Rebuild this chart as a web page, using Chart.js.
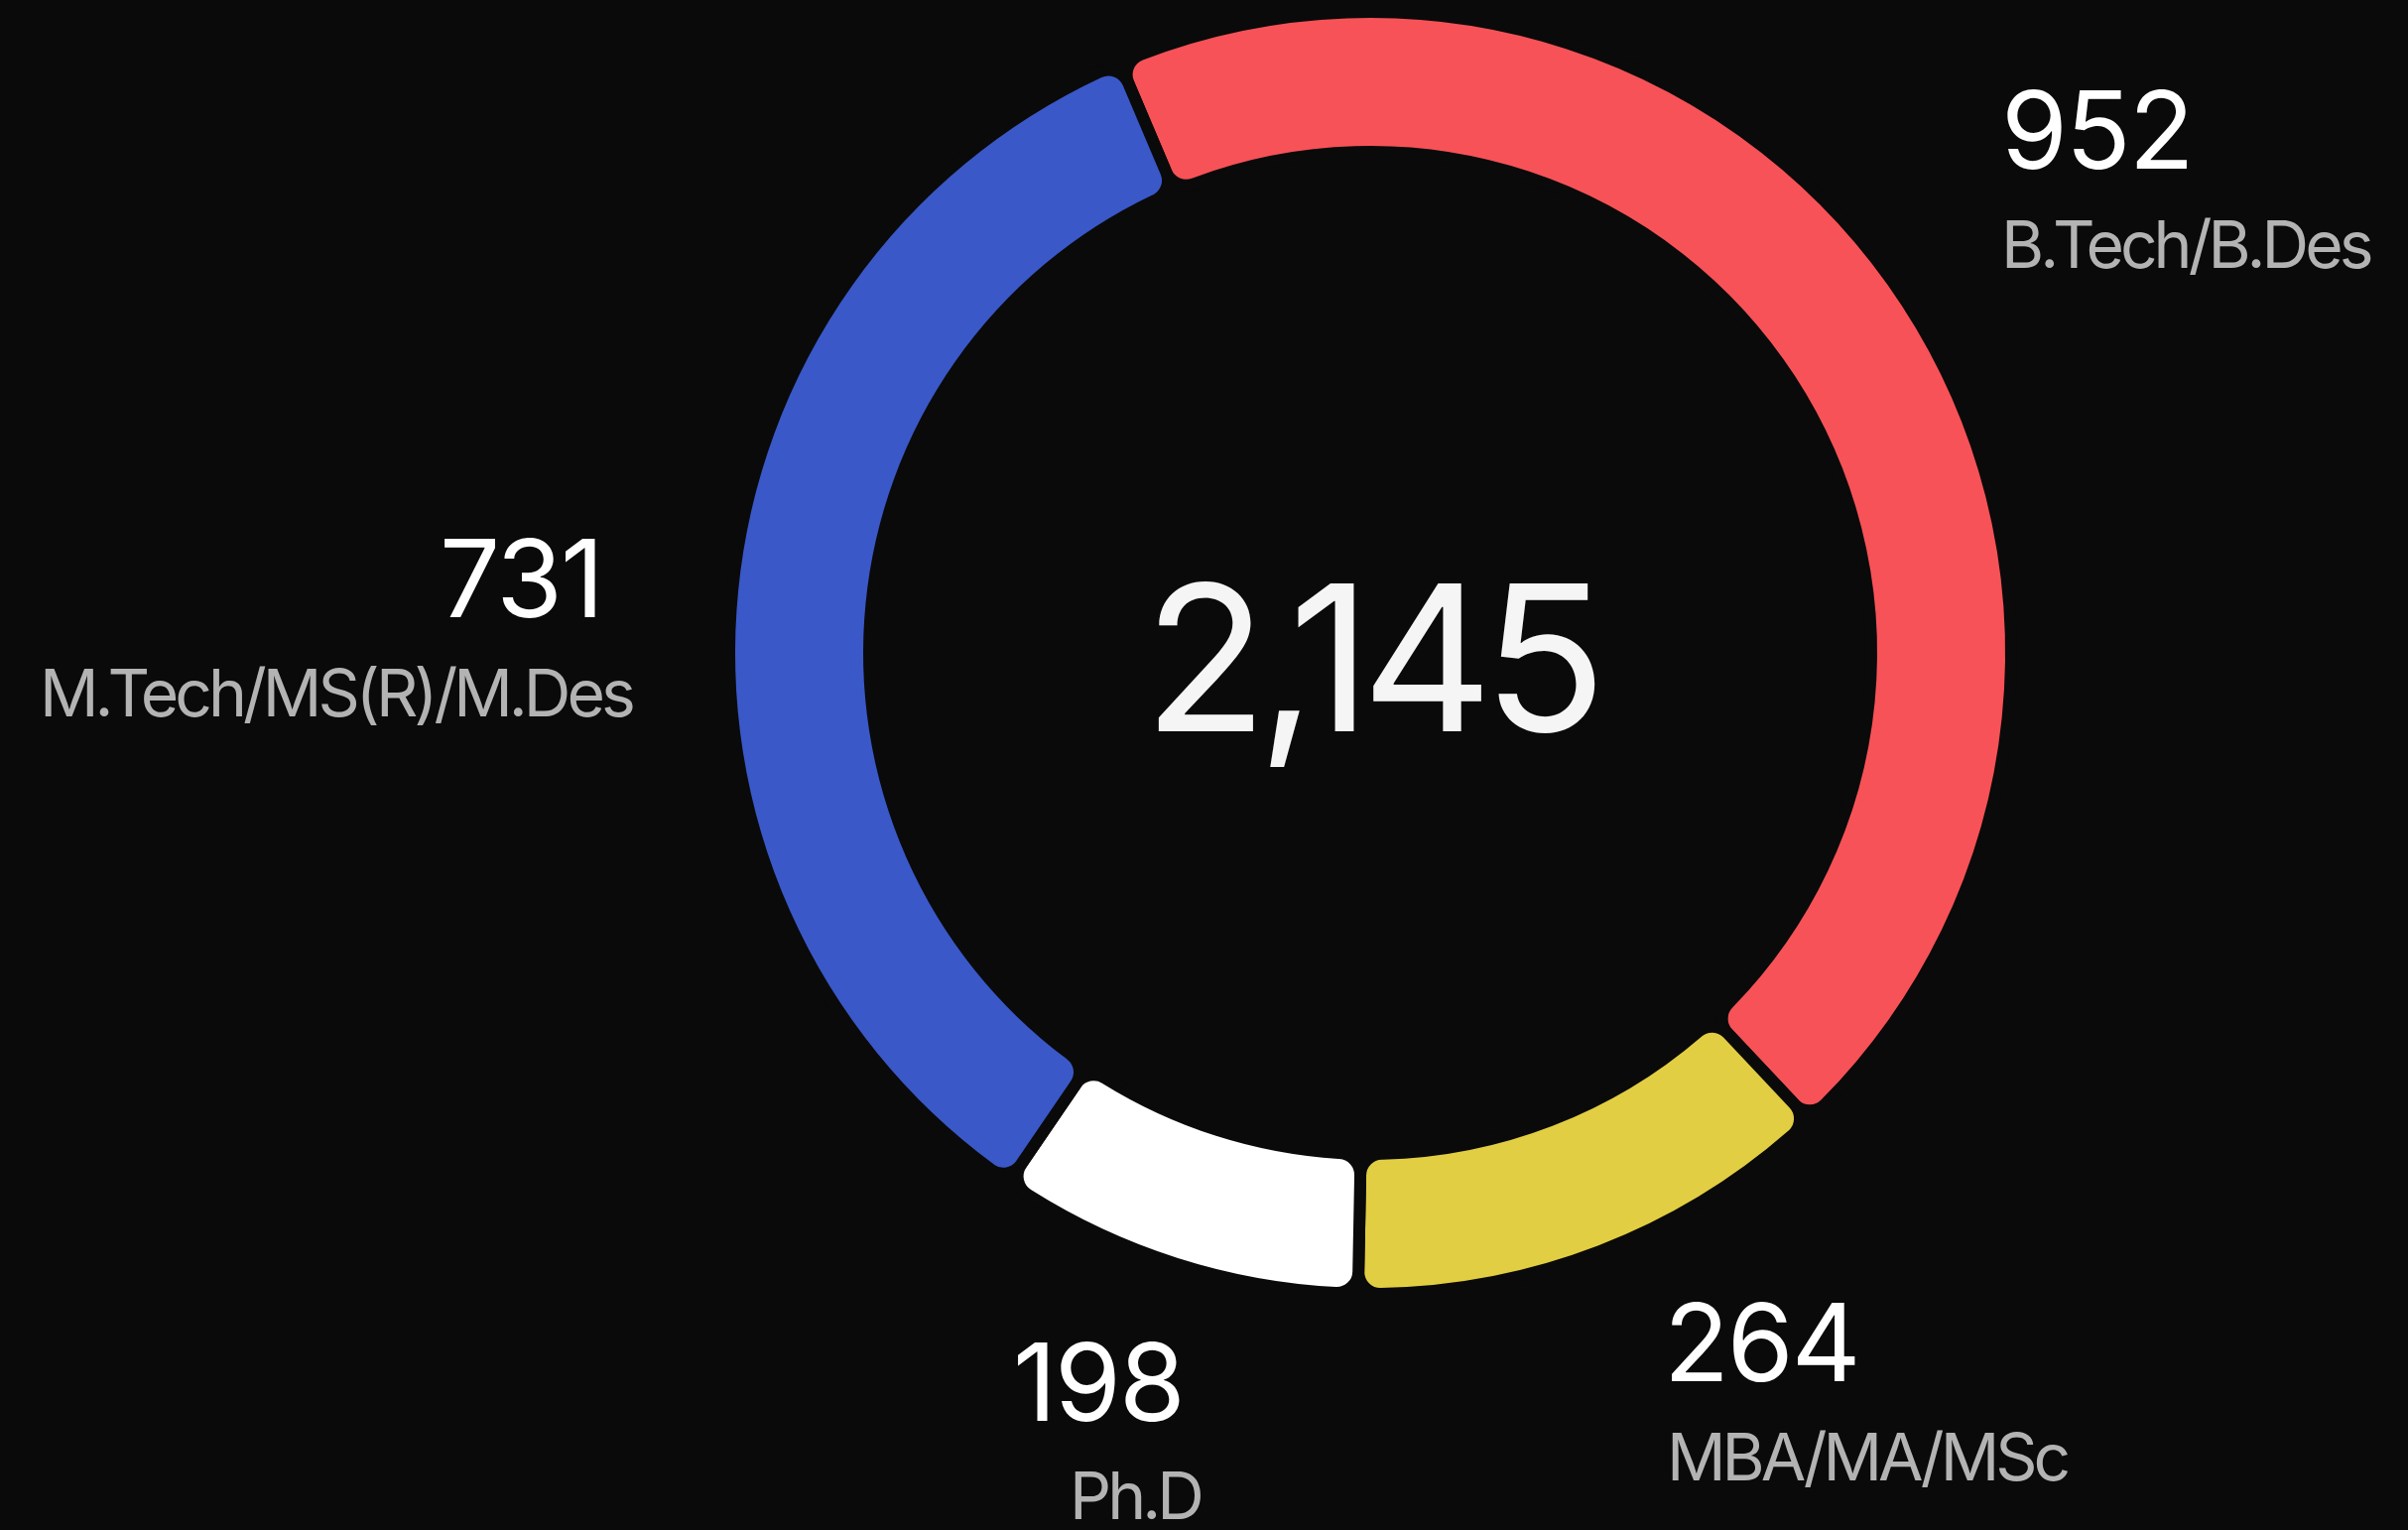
<!DOCTYPE html>
<html>
<head>
<meta charset="utf-8">
<script src="https://cdn.jsdelivr.net/npm/chart.js@4.4.1/dist/chart.umd.min.js"></script>
<style>
  html, body { margin: 0; padding: 0; background: #0a0a0a; }
  #wrap { position: relative; width: 2427px; height: 1542px; overflow: hidden; font-family: Inter, "Noto Sans", sans-serif; }
  #grafica { position: absolute; left: 0; top: 0; }
  .txt { position: absolute; white-space: nowrap; line-height: 1; }
  .num { color: #ffffff; font-size: 108px; letter-spacing: -2px; }
  .cat { color: #b3b3b3; font-size: 66px; letter-spacing: -4px; }
  #total { color: #f5f5f5; font-size: 205px; text-align: center; width: 1000px; letter-spacing: -10px; }
</style>
</head>
<body>
<div id="wrap">
  <canvas id="grafica" width="2427" height="1542"></canvas>
</div>
<script>
// datos del grafico
const categorias = ['B.Tech/B.Des', 'MBA/MA/MSc', 'Ph.D', 'M.Tech/MS(R)/M.Des'];
const valores = [952, 264, 198, 731];
const colores = ['#f75257', '#e2ce42', '#ffffff', '#3a58c8'];

// donde va cada etiqueta (numero y texto), en pixeles
const posNumero = [[2017, 77], [1677, 1299], [1021, 1339], [443, 529]];
const posTexto = [[2017, 213], [1680, 1435], [1078, 1474], [40, 665]];

const fondo = '#0a0a0a';
const contenedor = document.getElementById('wrap');

function ponerTexto(texto, clase, x, y) {
  const div = document.createElement('div');
  div.className = 'txt ' + clase;
  div.textContent = texto;
  div.style.left = x + 'px';
  div.style.top = y + 'px';
  contenedor.appendChild(div);
  return div;
}

const lienzo = document.getElementById('grafica').getContext('2d');
new Chart(lienzo, {
  type: 'doughnut',
  data: {
    labels: categorias,
    datasets: [{
      data: valores,
      backgroundColor: colores,
      borderColor: fondo,
      borderWidth: 12,
      borderRadius: 22,
      hoverOffset: 0
    }]
  },
  options: {
    responsive: false,
    animation: false,
    devicePixelRatio: 1,
    rotation: -23,
    cutout: '78.17%',
    layout: { padding: { top: 6, bottom: 232, left: 729, right: 394 } },
    plugins: { legend: { display: false }, tooltip: { enabled: false } },
    events: []
  }
});

// etiquetas de cada sector
categorias.forEach((cat, i) => {
  ponerTexto(String(valores[i]), 'num', posNumero[i][0], posNumero[i][1]);
  ponerTexto(cat, 'cat', posTexto[i][0], posTexto[i][1]);
});

// total en el centro
const total = valores.reduce((a, b) => a + b, 0);
const centro = ponerTexto(total.toLocaleString('en-US'), '', 1387 - 500 - 6, 560);
centro.id = 'total';
</script>
</body>
</html>
